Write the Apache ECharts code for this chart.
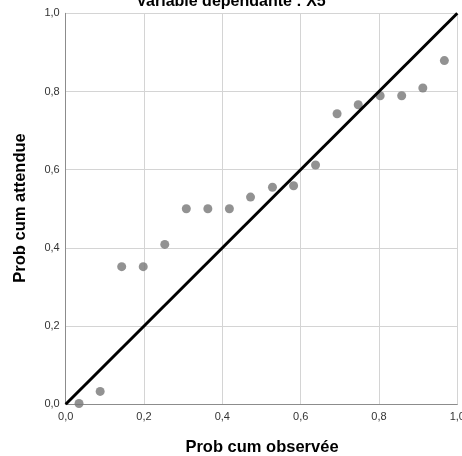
<!DOCTYPE html>
<html>
<head>
<meta charset="utf-8">
<script src="https://cdn.jsdelivr.net/npm/echarts@6/dist/echarts.min.js"></script>
<style>html,body{margin:0;padding:0;background:#fff}#c{width:462px;height:456px}</style>
</head>
<body>
<div id="c"></div>
<script>
const observed = [0.034, 0.088, 0.143, 0.198, 0.253, 0.308, 0.363, 0.418, 0.472, 0.528, 0.582, 0.638, 0.693, 0.747, 0.803, 0.858, 0.912, 0.967];
const expected = [0.002, 0.033, 0.352, 0.352, 0.409, 0.500, 0.500, 0.500, 0.530, 0.555, 0.559, 0.612, 0.743, 0.766, 0.789, 0.789, 0.809, 0.879];
const refLine = [[0, 0], [1, 1]];
const tickValues = [0, 0.2, 0.4, 0.6, 0.8, 1.0];
const titleText = 'Variable dépendante : X5';
const xTitle = 'Prob cum observée';
const yTitle = 'Prob cum attendue';

const fmt = v => v.toFixed(1).replace('.', ',');
const font = '"Liberation Sans", Arial, sans-serif';
const chart = echarts.init(document.getElementById('c'), null, {renderer: 'canvas'});
const axisCommon = {
  type: 'value', min: tickValues[0], max: tickValues[tickValues.length - 1], interval: 0.2,
  axisLine: {show: true, lineStyle: {color: '#8c8c8c', width: 1}},
  axisTick: {show: false},
  splitLine: {show: true, lineStyle: {color: '#d4d4d4', width: 1}},
  axisLabel: {formatter: fmt, color: '#333', fontSize: 11, fontFamily: font}
};
chart.setOption({
  animation: false,
  grid: {left: 65.7, right: 4.7, top: 13.3, bottom: 51.7, containLabel: false, outerBoundsMode: 'none'},
  xAxis: Object.assign({}, axisCommon, {axisLabel: Object.assign({}, axisCommon.axisLabel, {margin: 7})}),
  yAxis: Object.assign({}, axisCommon, {axisLabel: Object.assign({}, axisCommon.axisLabel, {margin: 6})}),
  graphic: [
    {type: 'text', x: 231, y: 10, style: {text: titleText, font: 'bold 16px ' + font, fill: '#000', align: 'center', verticalAlign: 'bottom'}},
    {type: 'text', x: 262, y: 447, style: {text: xTitle, font: 'bold 16.5px ' + font, fill: '#000', align: 'center', verticalAlign: 'middle'}},
    {type: 'text', x: 20, y: 208, rotation: Math.PI / 2, style: {text: yTitle, font: 'bold 16.5px ' + font, fill: '#000', align: 'center', verticalAlign: 'middle'}}
  ],
  series: [
    {type: 'line', data: refLine, showSymbol: false, lineStyle: {color: '#000', width: 3}, z: 3, silent: true},
    {type: 'scatter', data: observed.map((x, i) => [x, expected[i]]), symbolSize: 9, itemStyle: {color: '#777777'}, z: 2}
  ]
});
</script>
</body>
</html>
